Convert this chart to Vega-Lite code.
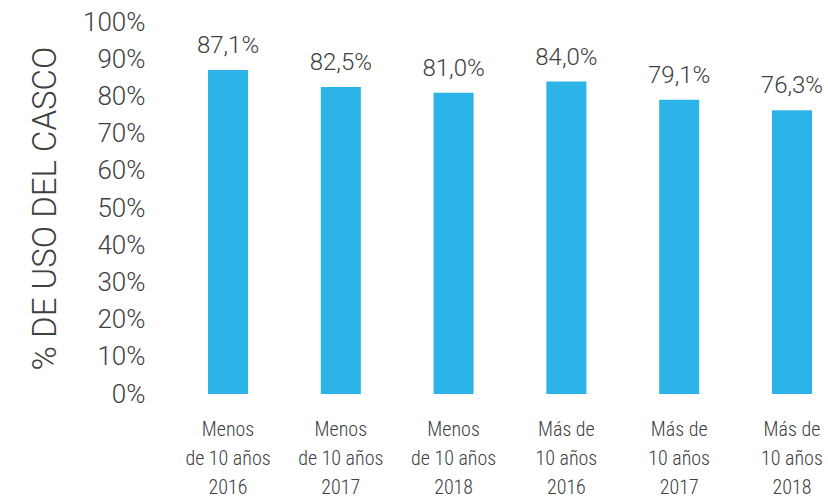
{
  "$schema": "https://vega.github.io/schema/vega-lite/v6.json",
  "autosize": "none",
  "padding": {"left": 192, "top": 22, "right": 0, "bottom": 106},
  "width": 636,
  "height": 372,
  "background": "white",
  "config": {
    "view": {"stroke": null},
    "locale": {"number": {"decimal": ",", "thousands": ".", "grouping": [3], "currency": ["", " €"]}},
    "font": "Roboto"
  },
  "data": {
    "values": [
      {"grupo": "Menos|de 10 años|2016", "uso": 0.871},
      {"grupo": "Menos|de 10 años|2017", "uso": 0.825},
      {"grupo": "Menos|de 10 años|2018", "uso": 0.810},
      {"grupo": "Más de|10 años|2016", "uso": 0.840},
      {"grupo": "Más de|10 años|2017", "uso": 0.791},
      {"grupo": "Más de|10 años|2018", "uso": 0.763}
    ]
  },
  "encoding": {
    "x": {
      "field": "grupo",
      "type": "nominal",
      "sort": null,
      "scale": {"paddingInner": 0.645, "paddingOuter": 0.142},
      "axis": {
        "title": null,
        "domain": false,
        "ticks": false,
        "labelAngle": 0,
        "labelExpr": "split(datum.label, '|')",
        "labelFont": "Liberation Sans Narrow, Roboto Condensed, Roboto",
        "labelFontSize": 20,
        "labelFontWeight": 300,
        "labelLineHeight": 29,
        "labelColor": "#404040",
        "labelPadding": 25,
        "labelBaseline": "top"
      }
    },
    "y": {
      "field": "uso",
      "type": "quantitative",
      "scale": {"domain": [0, 1]},
      "axis": {
        "title": "% DE USO DEL CASCO",
        "titleFont": "Roboto",
        "titleFontWeight": 300,
        "titleFontSize": 33,
        "titleColor": "#404040",
        "titlePadding": 20,
        "values": [0, 0.1, 0.2, 0.3, 0.4, 0.5, 0.6, 0.7, 0.8, 0.9, 1],
        "format": ".0%",
        "grid": false,
        "domain": false,
        "ticks": false,
        "labelFont": "Roboto",
        "labelFontWeight": 300,
        "labelFontSize": 26,
        "labelColor": "#404040",
        "labelPadding": 47
      }
    }
  },
  "layer": [
    {"mark": {"type": "bar", "color": "#2cb3e8"}},
    {
      "mark": {"type": "text", "baseline": "alphabetic", "dy": -17, "fontSize": 24, "fontWeight": 300, "color": "#404040", "font": "Roboto"},
      "encoding": {"text": {"field": "uso", "type": "quantitative", "format": ".1%"}}
    }
  ]
}
